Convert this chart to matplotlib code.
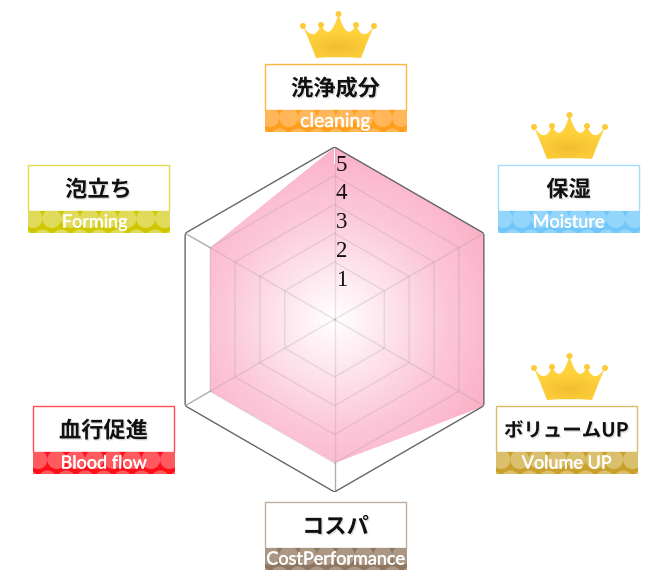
# レーダーチャート + ラベルの箱
import numpy as np
import matplotlib
matplotlib.use('Agg')
import matplotlib.pyplot as plt
import matplotlib.patheffects as pe
from matplotlib.colors import LinearSegmentedColormap
from matplotlib.patches import Circle, PathPatch, Polygon, Rectangle
from matplotlib.path import Path

# データ（上から時計回り）
names_jp = ['洗浄成分', '保湿', 'ボリュームUP', 'コスパ', '血行促進', '泡立ち']
names_en = ['cleaning', 'Moisture', 'Volume UP', 'CostPerformance', 'Blood flow', 'Forming']
scores = [5, 5, 5, 4, 4, 4]
ticks = [1, 2, 3, 4, 5]
r_min = -1
r_max = 5

# 箱のスタイル
box_left = [265, 498, 496, 265, 33, 28]
box_top = [64, 165, 406, 502, 406, 165]
jp_size = [16, 16, 14, 16, 16, 16]
en_size = [14, 13, 13, 13, 13, 13]
en_dx = [0, 0, 0, 0, 0, -4]
band_base = ['#ff9f1c', '#70c8fa', '#c9a02c', '#8f7660', '#ff0f1a', '#cfc800']
band_dot = ['#ffb75a', '#94d6fb', '#dabf6c', '#ab9786', '#ff5a60', '#e0db5a']
box_edge = ['#ffb440', '#a5defc', '#dcbc6c', '#bfae9f', '#ff4a50', '#e0db50']
crown_pos = [(300, 12), (531, 113), (531, 354)]

fig = plt.figure(figsize=(6.7, 5.84), dpi=100)
cx, cy, rad = 334.5, 319.5, 172.5
ax = fig.add_axes([(cx - rad) / 670, (584 - cy - rad) / 584, 2 * rad / 670, 2 * rad / 584],
                  projection='polar')
ax.set_theta_offset(np.pi / 2)
ax.set_theta_direction(-1)
ax.patch.set_visible(False)
ax.spines['polar'].set_visible(False)
ax.grid(False)

angles = np.arange(len(scores)) * 2 * np.pi / len(scores)
th_closed = np.append(angles, angles[0])
val_closed = np.append(scores, scores[0])

# 塗り: 中心が白のグラデーション
pink = LinearSegmentedColormap.from_list('pink', ['#ffffff', '#fde3ec', '#fcc6d8', '#fbb2c9'])
tt, rr = np.meshgrid(np.linspace(0, 2 * np.pi, 361), np.linspace(r_min, r_max, 121))
mesh = ax.pcolormesh(tt, rr, rr[:-1, :-1], cmap=pink, vmin=r_min, vmax=4.8, zorder=1)
poly = Polygon(np.column_stack([th_closed, val_closed]), closed=True, transform=ax.transData,
               facecolor='none', edgecolor='none')
ax.add_patch(poly)
mesh.set_clip_path(poly)

# グリッド
for t in ticks[:-1]:
    ax.plot(th_closed, [t] * len(th_closed), color='#8c8c8c', lw=1, alpha=0.2, zorder=2)
for a, s in zip(angles, scores):
    ax.plot([a, a], [r_min, s], color='#8c8c8c', lw=1, alpha=0.22, zorder=2)
    ax.plot([a, a], [s, r_max], color='#8c8c8c', lw=1, alpha=0.7, zorder=2)
ax.plot(th_closed, [r_max] * len(th_closed), color='#666666', lw=1, zorder=3)

for t in ticks:
    ax.annotate(str(t), xy=(0, t), xytext=(7, -18), textcoords='offset pixels', ha='center',
                va='center', fontsize=16.5, family='Liberation Serif', color='#111111', zorder=4)

ax.set_xticks([])
ax.set_yticks([])
ax.set_ylim(r_min, r_max)

# ラベル用のピクセル座標の軸
ov = fig.add_axes([0, 0, 1, 1])
ov.axis('off')

box_w, box_h, band_h = 141, 46, 22
for i in range(len(names_jp)):
    x0, y0 = box_left[i], box_top[i]
    ov.add_patch(Rectangle((x0, y0), box_w, box_h, fc='white', ec=box_edge[i], lw=1, zorder=2))
    band = Rectangle((x0 - 0.5, y0 + box_h), box_w + 1, band_h, fc=band_base[i], ec='none', zorder=2)
    ov.add_patch(band)
    for dy, shift in [(7.5, 0), (28, 9.5)]:
        for k in range(-1, 9):
            c = Circle((x0 + 5 + shift + k * 18.8, y0 + box_h + dy), 9.5, fc=band_dot[i], ec='none', zorder=3)
            ov.add_patch(c)
            c.set_clip_path(band)
    ov.text(x0 + box_w / 2, y0 + 25, names_jp[i], ha='center', va='center', fontsize=jp_size[i],
            fontweight='bold', family=['Noto Sans CJK JP', 'DejaVu Sans'], color='#111111', zorder=5,
            path_effects=[pe.withSimplePatchShadow(offset=(1, -1), shadow_rgbFace='k', alpha=0.12)])
    ov.text(x0 + box_w / 2 + en_dx[i], y0 + box_h + 11.5, names_en[i], ha='center', va='center',
            fontsize=en_size[i], family='Lato', color='white', zorder=5,
            path_effects=[pe.withStroke(linewidth=0.3, foreground='white')])


def crown(x0, y0):
    # 王冠の形（左上基準のピクセル）
    outer_l, inner_l, top, inner_r, outer_r = (3, 14), (21, 13), (38.5, 2), (56, 13), (74, 14)
    verts = [(16, 46), (10, 30), outer_l, (14, 31), inner_l, (30, 31), top,
             (47, 31), inner_r, (63, 31), outer_r, (67, 30), (61, 46), (38.5, 44), (16, 46), (16, 46)]
    codes = [Path.MOVETO] + [Path.CURVE3] * 14 + [Path.CLOSEPOLY]
    path = Path([(x0 + vx, y0 + vy) for vx, vy in verts], codes)
    patch = PathPatch(path, fc='none', ec='none', zorder=2)
    ov.add_patch(patch)
    gx, gy = np.meshgrid(np.linspace(-1, 1, 80), np.linspace(-1, 1, 50))
    d = np.clip(np.sqrt(gx ** 2 + ((gy - 0.5) * 1.6) ** 2), 0, 1)
    cols = np.array([0xf2, 0xbe, 0x30]) * (1 - d[..., None]) + np.array([0xff, 0xd2, 0x3c]) * d[..., None]
    img = ov.imshow(cols.astype(np.uint8), extent=(x0, x0 + 77, y0 + 47, y0), aspect='auto', zorder=2)
    img.set_clip_path(patch)
    for bx, by in [outer_l, inner_l, top, inner_r, outer_r]:
        ov.add_patch(Circle((x0 + bx, y0 + by), 3, fc='#fdcb3a', ec='none', zorder=3))


for xc, yc in crown_pos:
    crown(xc, yc)

ov.set_xlim(0, 670)
ov.set_ylim(584, 0)

fig.savefig('out.png', dpi=100)
